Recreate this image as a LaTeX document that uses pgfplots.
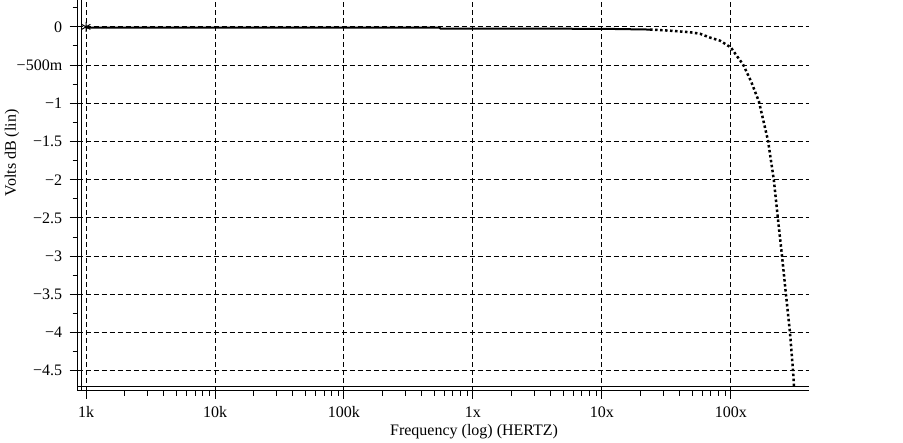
\documentclass[border=0pt]{standalone}
\usepackage{fontspec}
\setmainfont{Liberation Serif}
\usepackage{pgfplots}
\pgfplotsset{compat=1.18}

\begin{document}
\fontsize{16}{19}\selectfont
\begin{tikzpicture}[x=1pt,y=1pt]
\path[use as bounding box] (-77.7,-52) rectangle (825.3,391);
\begin{axis}[
  at={(0,0)}, anchor=south west, scale only axis,
  width=731.3pt, height=391pt,
  xmode=log, xmin=862, xmax=4.03e8,
  ymin=-4.765, ymax=0.352,
  axis x line*=bottom, axis y line*=left,
  axis line style={-, line width=1pt, black},
  tick align=outside,
  major tick length=8pt, minor tick length=5pt,
  every tick/.style={black, line width=1pt},
  xtick={1e3,1e4,1e5,1e6,1e7,1e8},
  xticklabels={1k,10k,100k,1x,10x,100x},
  ytick={-4.5,-4,-3.5,-3,-2.5,-2,-1.5,-1,-0.5,0},
  yticklabels={−4.5,−4,−3.5,−3,−2.5,−2,−1.5,−1,−500m,0},
  minor ytick={-4.25,-3.75,-3.25,-2.75,-2.25,-1.75,-1.25,-0.75,-0.25,0.25},
  tick label style={font=\fontsize{16}{19}\selectfont},
  xticklabel style={yshift=-2pt},
  yticklabel style={xshift=-2pt},
  grid=major,
  major grid style={black, line width=1pt, dash pattern=on 5pt off 3pt},
  xlabel={Frequency (log) (HERTZ)},
  ylabel={Volts dB (lin)},
  label style={font=\fontsize{16}{19}\selectfont},
  every axis x label/.style={at={(axis description cs:0.542,0)}, yshift=-41pt, anchor=center},
  every axis y label/.style={at={(axis description cs:0,0.609)}, xshift=-65.7pt, rotate=90, anchor=center},
  clip=false,
]
% plot frame lines of the simulator window
\draw[line width=1.8pt] (axis cs:862,-4.705) -- (axis cs:4.03e8,-4.705);
\draw[line width=1pt] (axis cs:926,-4.765) -- (axis cs:926,0.352);
% flat pass band
\addplot[black, line width=2pt] coordinates {
  (1e3,-0.01) (5.5e5,-0.01) (5.6e5,-0.022) (1e7,-0.025) (2.36e7,-0.035)
};
% roll-off, drawn as sampled dots
\addplot[black, line width=2.5pt, dash pattern=on 2.5pt off 2.5pt] coordinates {
  (2.36e7,-0.035) (3.37e7,-0.05) (4.81e7,-0.07) (5.76e7,-0.09) (6.88e7,-0.14)
  (8.22e7,-0.18) (1e8,-0.27) (1.11e8,-0.38) (1.24e8,-0.49) (1.43e8,-0.71)
  (1.65e8,-0.98) (1.94e8,-1.49) (2.15e8,-2.0) (2.31e8,-2.5) (2.49e8,-3.0)
  (2.67e8,-3.5) (2.87e8,-4.0) (3.03e8,-4.5) (3.08e8,-4.70)
};
% marker at start
\addplot[black, line width=1pt, only marks, mark=asterisk, mark size=5pt] coordinates {(1e3,0)};
\end{axis}
\end{tikzpicture}
\end{document}
